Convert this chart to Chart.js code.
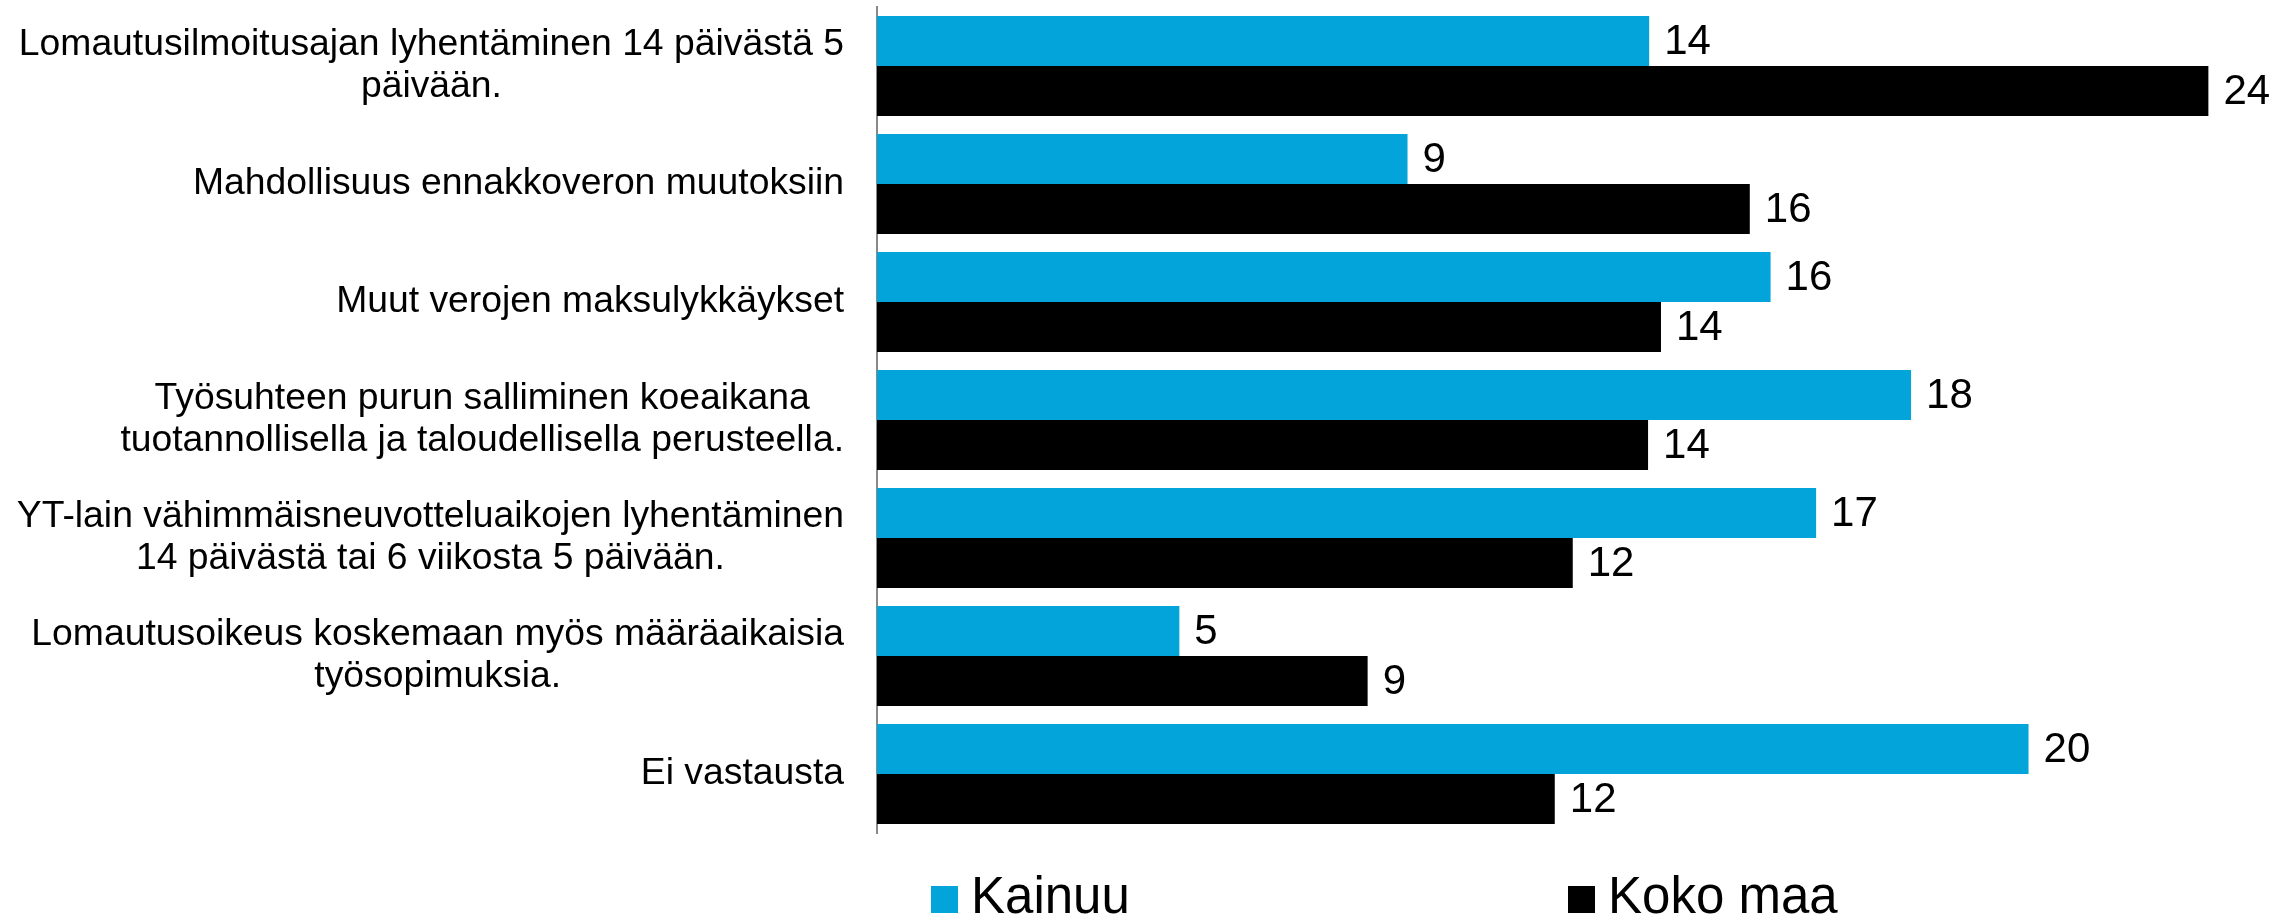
<!DOCTYPE html>
<html><head><meta charset="utf-8">
<script src="https://cdn.jsdelivr.net/npm/chart.js@4/dist/chart.umd.min.js"></script>
<style>html,body{margin:0;padding:0;background:#fff;overflow:hidden}#wrap{width:2293px;height:918px;position:relative}canvas{display:block}</style>
</head><body><div id="wrap"><canvas id="c" width="2293" height="918"></canvas></div>
<script>
const categories = [
  ["Lomautusilmoitusajan lyhentäminen 14 päivästä 5", "päivään."],
  ["Mahdollisuus ennakkoveron muutoksiin"],
  ["Muut verojen maksulykkäykset"],
  ["Työsuhteen purun salliminen koeaikana", "tuotannollisella ja taloudellisella perusteella."],
  ["YT-lain vähimmäisneuvotteluaikojen lyhentäminen", "14 päivästä tai 6 viikosta 5 päivään."],
  ["Lomautusoikeus koskemaan myös määräaikaisia", "työsopimuksia."],
  ["Ei vastausta"]
];
const seriesNames = ["Kainuu", "Koko maa"];
const seriesColors = ["#02A4D9", "#000000"];
const kainuu  = [13.74, 9.44, 15.90, 18.40, 16.71, 5.38, 20.49];
const kokoMaa = [23.69, 15.53, 13.95, 13.72, 12.38, 8.73, 12.06];
const kainuuLabels  = [14, 9, 16, 18, 17, 5, 20];
const kokoMaaLabels = [24, 16, 14, 14, 12, 9, 12];
const valueLabels = [kainuuLabels, kokoMaaLabels];

const FONT = '"Liberation Sans", Arial, sans-serif';

const categoryLabelPlugin = {
  id: 'categoryLabels',
  afterDraw(chart) {
    const ctx = chart.ctx, ys = chart.scales.y;
    const right = chart.chartArea.left - 33;
    const lh = 41.6;
    ctx.save();
    ctx.font = '37.3px ' + FONT;
    ctx.fillStyle = '#000';
    ctx.textAlign = 'center';
    ctx.textBaseline = 'middle';
    ys.getLabels().forEach((lines, i) => {
      const cy = ys.getPixelForValue(i);
      const w = Math.max(...lines.map(l => ctx.measureText(l).width));
      const cx = right - w / 2;
      lines.forEach((l, j) => {
        ctx.fillText(l, cx, cy + (j - (lines.length - 1) / 2) * lh);
      });
    });
    ctx.restore();
  }
};

const valueLabelPlugin = {
  id: 'valueLabels',
  afterDatasetsDraw(chart) {
    const ctx = chart.ctx;
    ctx.save();
    ctx.font = '42px ' + FONT;
    ctx.fillStyle = '#000';
    ctx.textAlign = 'left';
    ctx.textBaseline = 'middle';
    chart.data.datasets.forEach((ds, di) => {
      chart.getDatasetMeta(di).data.forEach((el, i) => {
        ctx.fillText(String(valueLabels[di][i]), el.x + 15, el.y + 1);
      });
    });
    ctx.restore();
  }
};

const legendPlugin = {
  id: 'customLegend',
  afterDraw(chart) {
    const ctx = chart.ctx, ca = chart.chartArea;
    const offsets = [54, 691];
    const box = 27;
    const boxBottom = ca.bottom + 80;
    ctx.save();
    ctx.font = '51px ' + FONT;
    ctx.textAlign = 'left';
    ctx.textBaseline = 'alphabetic';
    chart.data.datasets.forEach((ds, di) => {
      const x = ca.left + offsets[di];
      ctx.fillStyle = ds.backgroundColor;
      ctx.fillRect(x, boxBottom - box, box, box);
      ctx.fillStyle = '#000';
      ctx.fillText(ds.label, x + 40, boxBottom);
    });
    ctx.restore();
  }
};

new Chart(document.getElementById('c'), {
  type: 'bar',
  data: {
    labels: categories,
    datasets: [
      { label: seriesNames[0], data: kainuu, backgroundColor: seriesColors[0] },
      { label: seriesNames[1], data: kokoMaa, backgroundColor: seriesColors[1] }
    ]
  },
  options: {
    indexAxis: 'y',
    responsive: false,
    animation: false,
    devicePixelRatio: 1,
    layout: { padding: { left: 0, right: 11, top: 7, bottom: 85 } },
    datasets: { bar: { categoryPercentage: 0.847, barPercentage: 1, borderWidth: 0 } },
    plugins: { legend: { display: false }, tooltip: { enabled: false } },
    scales: {
      x: { display: false, min: 0, max: 25 },
      y: {
        display: true,
        grid: { display: false },
        border: { display: true, color: '#898989', width: 2 },
        ticks: { display: false },
        afterFit(s) { s.width = 877; }
      }
    }
  },
  plugins: [categoryLabelPlugin, valueLabelPlugin, legendPlugin]
});
</script>
</body></html>
